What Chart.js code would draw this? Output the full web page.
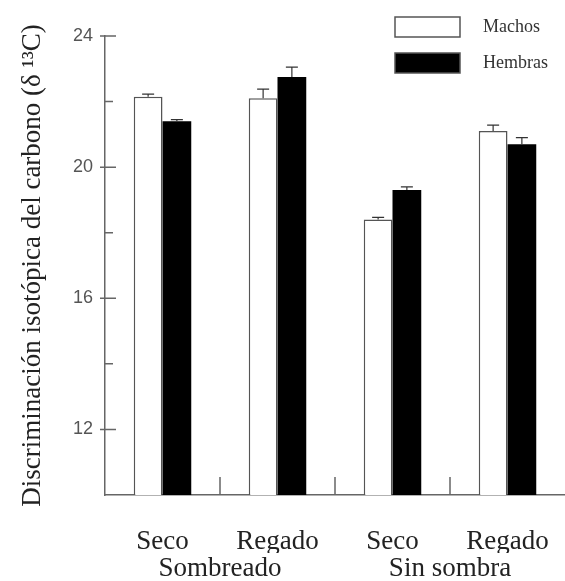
<!DOCTYPE html>
<html>
<head>
<meta charset="utf-8">
<script src="https://cdn.jsdelivr.net/npm/chart.js@4"></script>
<style>
html, body { margin: 0; padding: 0; background: #fff; overflow: hidden; }
#wrap { width: 565px; height: 581px; position: relative; }
canvas { display: block; }
</style>
</head>
<body>
<div id="wrap"><canvas id="myChart"></canvas></div>
<script>
var xValues = ["Seco", "Regado", "Seco", "Regado"];
var groupLabels = ["Sombreado", "Sin sombra"];
var seriesNames = ["Machos", "Hembras"];
var machos = [22.15, 22.1, 18.4, 21.1];
var hembras = [21.4, 22.75, 19.3, 20.7];
var machosErr = [0.08, 0.28, 0.07, 0.18];
var hembrasErr = [0.05, 0.3, 0.1, 0.2];
var yTicks = [12, 16, 20, 24];
var yMinorTicks = [14, 18, 22];

var serif = "'Liberation Serif', 'Times New Roman', serif";

// error bars, drawn upward from each bar top
var errorBars = {
    id: "errorBars",
    afterDatasetsDraw: function (chart) {
        var ctx = chart.ctx;
        var ys = chart.scales.y;
        ctx.save();
        ctx.strokeStyle = "#333";
        ctx.lineWidth = 1.2;
        chart.data.datasets.forEach(function (ds, d) {
            chart.getDatasetMeta(d).data.forEach(function (bar, i) {
                var top = ys.getPixelForValue(ds.data[i] + ds.errors[i]);
                ctx.beginPath();
                ctx.moveTo(bar.x, bar.y);
                ctx.lineTo(bar.x, top);
                ctx.moveTo(bar.x - 6, top);
                ctx.lineTo(bar.x + 6, top);
                ctx.stroke();
            });
        });
        ctx.restore();
    }
};

// tick marks: crossing major ticks on y, short minor ones, inner ticks between groups on x
var axisTicks = {
    id: "axisTicks",
    afterDraw: function (chart) {
        var ctx = chart.ctx;
        var xs = chart.scales.x, ys = chart.scales.y;
        ctx.save();
        ctx.strokeStyle = "#666";
        ctx.lineWidth = 1.5;
        ctx.beginPath();
        yTicks.forEach(function (v) {
            var y = ys.getPixelForValue(v);
            ctx.moveTo(xs.left - 5, y);
            ctx.lineTo(xs.left + 11, y);
        });
        yMinorTicks.forEach(function (v) {
            var y = ys.getPixelForValue(v);
            ctx.moveTo(xs.left, y);
            ctx.lineTo(xs.left + 8, y);
        });
        for (var i = 0; i < xValues.length - 1; i++) {
            var x = (xs.getPixelForValue(i) + xs.getPixelForValue(i + 1)) / 2;
            ctx.moveTo(x, ys.bottom);
            ctx.lineTo(x, ys.bottom - 18);
        }
        ctx.stroke();
        ctx.restore();
    }
};

// legend boxes in the top right corner of the plot
var boxLegend = {
    id: "boxLegend",
    afterDraw: function (chart) {
        var ctx = chart.ctx;
        ctx.save();
        chart.data.datasets.forEach(function (ds, d) {
            var top = 17 + d * 36;
            ctx.fillStyle = ds.backgroundColor;
            ctx.fillRect(395, top, 65, 20);
            ctx.strokeStyle = "#555";
            ctx.lineWidth = 1.5;
            ctx.strokeRect(395, top, 65, 20);
            ctx.fillStyle = "#333";
            ctx.font = "18px " + serif;
            ctx.textBaseline = "middle";
            ctx.fillText(ds.label, 483, top + 10);
        });
        ctx.restore();
    }
};

new Chart("myChart", {
    type: "bar",
    data: {
        labels: xValues,
        datasets: [{
            label: seriesNames[0],
            data: machos,
            errors: machosErr,
            backgroundColor: "#ffffff",
            borderColor: "#555",
            borderWidth: 1.5
        }, {
            label: seriesNames[1],
            data: hembras,
            errors: hembrasErr,
            backgroundColor: "#000000",
            borderWidth: 0
        }]
    },
    options: {
        responsive: true,
        maintainAspectRatio: false,
        animation: false,
        categoryPercentage: 0.5,
        barPercentage: 1.0,
        layout: { padding: { top: 36, left: 0, right: 0, bottom: 0 } },
        plugins: {
            legend: { display: false },
            tooltip: { enabled: false }
        },
        scales: {
            x: {
                // tick marks hidden; tickLength only pushes the labels down
                grid: { display: false, drawTicks: true, tickLength: 31 },
                border: { color: "#666", width: 1.5 },
                ticks: {
                    font: { family: serif, size: 27 },
                    color: "#222",
                    padding: 0,
                    maxRotation: 0,
                    autoSkip: false
                },
                afterFit: function (s) { s.height = 58; }
            },
            x2: {
                type: "category",
                labels: groupLabels,
                position: "bottom",
                offset: true,
                grid: { display: false, drawTicks: false },
                border: { display: false },
                ticks: {
                    font: { family: serif, size: 27 },
                    color: "#222",
                    padding: 0,
                    maxRotation: 0,
                    autoSkip: false
                },
                afterFit: function (s) { s.height = 28; }
            },
            y: {
                min: 10,
                max: 24,
                grid: { display: false, drawTicks: false },
                border: { color: "#666", width: 1.5 },
                afterBuildTicks: function (s) {
                    s.ticks = yTicks.map(function (v) { return { value: v }; });
                },
                ticks: {
                    font: { family: "'Liberation Sans', Arial, sans-serif", size: 18 },
                    color: "#555",
                    padding: 12
                },
                title: {
                    display: true,
                    text: "Discriminación isotópica del carbono (δ ¹³C)",
                    font: { family: serif, size: 27 },
                    color: "#222",
                    padding: { top: 17, bottom: 0 }
                },
                afterFit: function (s) { s.width = 105; }
            }
        }
    },
    plugins: [errorBars, axisTicks, boxLegend]
});
</script>
</body>
</html>
